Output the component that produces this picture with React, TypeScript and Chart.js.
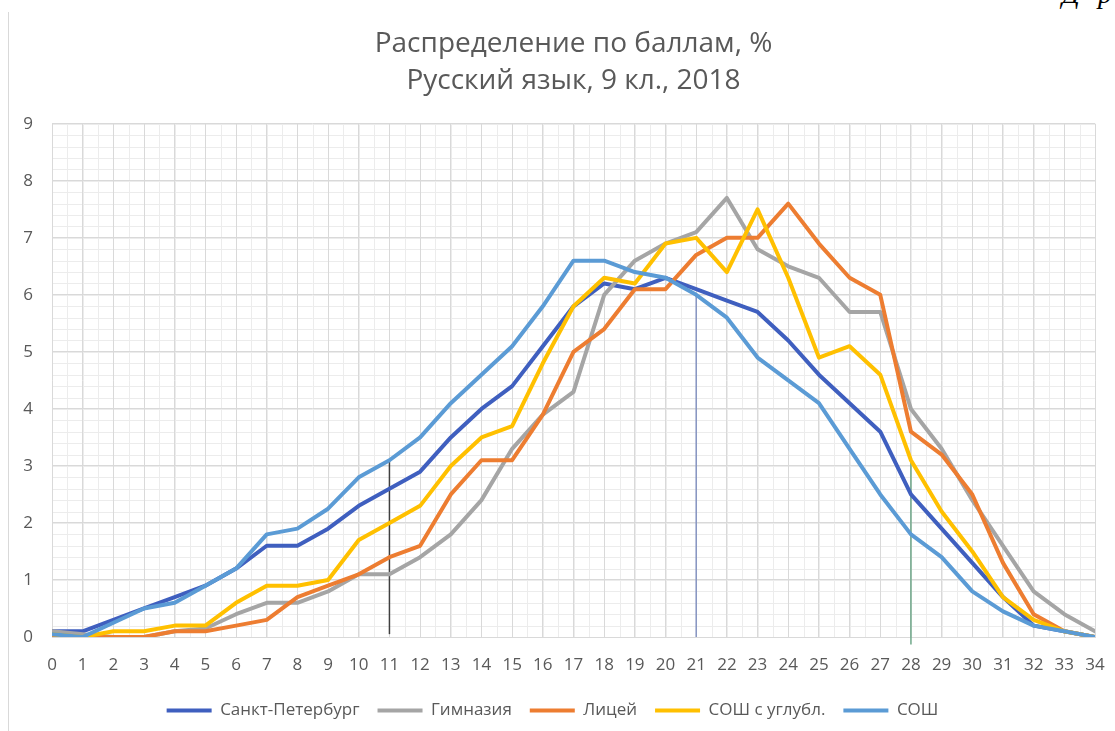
import React, { useEffect, useRef } from "react";
import { Chart, registerables } from "chart.js";

Chart.register(...registerables);

const titleLines = ["Распределение по баллам, %", "Русский язык, 9 кл., 2018"];
const scores = [0, 1, 2, 3, 4, 5, 6, 7, 8, 9, 10, 11, 12, 13, 14, 15, 16, 17, 18, 19, 20, 21, 22, 23, 24, 25, 26, 27, 28, 29, 30, 31, 32, 33, 34];

const seriesNames = ["Санкт-Петербург", "Гимназия", "Лицей", "СОШ с углубл.", "СОШ"];
const seriesColors = ["#3F5FBF", "#A5A5A5", "#ED7D31", "#FFC000", "#5B9BD5"];

const spbValues = [0.1, 0.1, 0.3, 0.5, 0.7, 0.9, 1.2, 1.6, 1.6, 1.9, 2.3, 2.6, 2.9, 3.5, 4.0, 4.4, 5.1, 5.8, 6.2, 6.1, 6.3, 6.1, 5.9, 5.7, 5.2, 4.6, 4.1, 3.6, 2.5, 1.9, 1.3, 0.7, 0.2, 0.1, 0.0];
const gymValues = [0.1, 0.05, 0.0, 0.0, 0.1, 0.15, 0.4, 0.6, 0.6, 0.8, 1.1, 1.1, 1.4, 1.8, 2.4, 3.3, 3.9, 4.3, 6.0, 6.6, 6.9, 7.1, 7.7, 6.8, 6.5, 6.3, 5.7, 5.7, 4.0, 3.3, 2.4, 1.6, 0.8, 0.4, 0.1];
const lyceumValues = [0.0, 0.0, 0.0, 0.0, 0.1, 0.1, 0.2, 0.3, 0.7, 0.9, 1.1, 1.4, 1.6, 2.5, 3.1, 3.1, 3.9, 5.0, 5.4, 6.1, 6.1, 6.7, 7.0, 7.0, 7.6, 6.9, 6.3, 6.0, 3.6, 3.2, 2.5, 1.3, 0.4, 0.1, 0.0];
const advancedValues = [0.05, 0.0, 0.1, 0.1, 0.2, 0.2, 0.6, 0.9, 0.9, 1.0, 1.7, 2.0, 2.3, 3.0, 3.5, 3.7, 4.8, 5.8, 6.3, 6.2, 6.9, 7.0, 6.4, 7.5, 6.3, 4.9, 5.1, 4.6, 3.1, 2.2, 1.5, 0.7, 0.3, 0.1, 0.0];
const schoolValues = [0.05, 0.0, 0.25, 0.5, 0.6, 0.9, 1.2, 1.8, 1.9, 2.25, 2.8, 3.1, 3.5, 4.1, 4.6, 5.1, 5.8, 6.6, 6.6, 6.4, 6.3, 6.0, 5.6, 4.9, 4.5, 4.1, 3.3, 2.5, 1.8, 1.4, 0.8, 0.45, 0.2, 0.1, 0.0];

const markerScores = [11, 21, 28];
const markerFrom = [0.05, 0.0, -0.13];
const markerTo = [3.1, 6.0, 3.1];
const markerColors = ["#404040", "#8593C0", "#6FA88A"];

const yTicksMin = 0;
const yTicksMax = 9;

const FONT = "'Open Sans', 'Noto Sans', sans-serif";
const TEXT = "#595959";

const minorGrid = {
  id: "minorGrid",
  beforeDraw(chart: any) {
    const { ctx, chartArea: a, scales } = chart;
    const x = scales.x;
    const y = scales.y;
    ctx.save();
    ctx.strokeStyle = "#ececec";
    ctx.lineWidth = 1;
    ctx.beginPath();
    for (let v = 0; v <= 34; v += 0.5) {
      const px = Math.round(x.getPixelForValue(v)) + 0.5;
      ctx.moveTo(px, a.top);
      ctx.lineTo(px, a.bottom);
    }
    for (let v = 0; v <= 9.001; v += 0.2) {
      const py = Math.round(y.getPixelForValue(v)) + 0.5;
      ctx.moveTo(a.left, py);
      ctx.lineTo(a.right, py);
    }
    ctx.stroke();
    ctx.restore();
  },
};

export default function App() {
  const ref = useRef<HTMLCanvasElement>(null);

  useEffect(() => {
    const all = [spbValues, gymValues, lyceumValues, advancedValues, schoolValues];
    const seriesSets = all.map((vals, i) => ({
      label: seriesNames[i],
      data: scores.map((s, k) => ({ x: s, y: vals[k] })),
      borderColor: seriesColors[i],
      backgroundColor: seriesColors[i],
      borderWidth: 4,
      pointRadius: 0,
      tension: 0,
      borderJoinStyle: "round" as const,
      borderCapStyle: "round" as const,
      order: 10 - i,
    }));
    const markerSets = markerScores.map((s, i) => ({
      label: "marker" + s,
      data: [
        { x: s, y: markerFrom[i] },
        { x: s, y: markerTo[i] },
      ],
      borderColor: markerColors[i],
      backgroundColor: markerColors[i],
      borderWidth: 1.5,
      pointRadius: 0,
      clip: false as any,
      order: 20,
    }));

    const chart = new Chart(ref.current as HTMLCanvasElement, {
      type: "line",
      data: { datasets: [...seriesSets, ...markerSets] as any },
      plugins: [minorGrid],
      options: {
        responsive: false,
        animation: false,
        devicePixelRatio: 1,
        layout: { padding: { left: 10, right: 20, top: 26, bottom: 2 } },
        plugins: {
          title: {
            display: true,
            fullSize: false,
            text: titleLines,
            color: TEXT,
            font: { family: FONT, size: 28, weight: "normal", lineHeight: 1.3 },
            padding: { top: 0, bottom: 25 },
          },
          legend: {
            position: "bottom",
            labels: {
              boxWidth: 45,
              boxHeight: 4,
              color: TEXT,
              padding: 18,
              font: { family: FONT, size: 17 },
              filter: (item: any) => item.datasetIndex < seriesNames.length,
              sort: (a: any, b: any) => a.datasetIndex - b.datasetIndex,
              generateLabels: (ch: any) => {
                const items = Chart.defaults.plugins.legend.labels.generateLabels(ch);
                return items.map((it: any) => ({ ...it, lineWidth: 0, fillStyle: it.strokeStyle }));
              },
            },
          },
          tooltip: { enabled: false },
        },
        scales: {
          x: {
            type: "linear",
            min: 0,
            max: 34,
            ticks: { stepSize: 1, autoSkip: false, maxRotation: 0, color: TEXT, font: { family: FONT, size: 17 }, padding: 18 },
            grid: { color: "#d9d9d9", drawTicks: false },
            border: { color: "#d9d9d9" },
            afterFit: (s: any) => {
              s.height = 47;
              s.paddingLeft = 0;
              s.paddingRight = 0;
            },
          },
          y: {
            min: yTicksMin,
            max: yTicksMax,
            ticks: { stepSize: 1, color: TEXT, font: { family: FONT, size: 17 }, padding: 19 },
            grid: { color: "#d9d9d9", drawTicks: false },
            border: { display: false },
            afterFit: (s: any) => {
              s.width = 42;
            },
          },
        },
      },
    });
    return () => chart.destroy();
  }, []);

  return (
    <div style={{ position: "fixed", left: 0, top: 0, width: 1115, height: 731, background: "#fff", overflow: "hidden" }}>
      <div style={{ position: "absolute", left: 8, top: 12, bottom: 0, borderLeft: "1px solid #d9d9d9" }} />
      <span style={{ position: "absolute", left: 1062, top: -22, font: "italic 28px 'Liberation Serif', serif", color: "#000" }}>Д</span>
      <span style={{ position: "absolute", left: 1098, top: -22, font: "italic 28px 'Liberation Serif', serif", color: "#000" }}>р</span>
      <canvas ref={ref} width={1115} height={731} style={{ position: "absolute", left: 0, top: 0 }} />
    </div>
  );
}
